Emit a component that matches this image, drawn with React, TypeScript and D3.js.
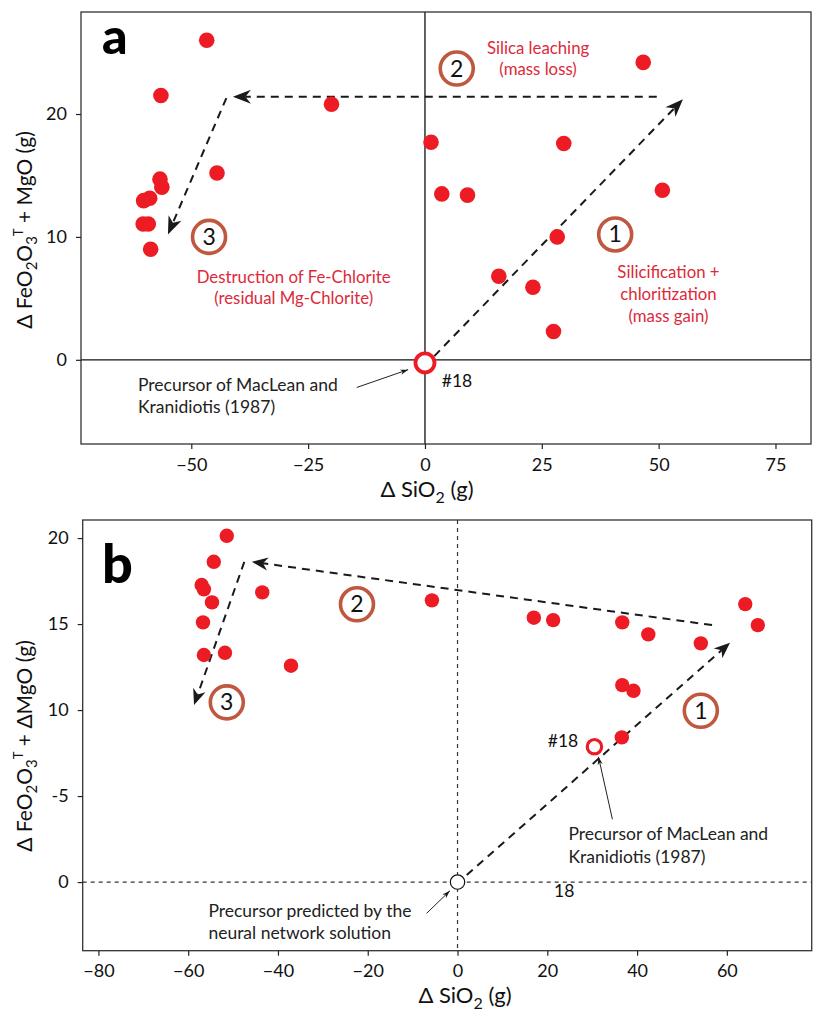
import React, { useEffect, useRef } from 'react';
import * as d3 from 'd3';

// panel a: mass change of SiO2 vs FeO2O3T + MgO
const aSiO2 = [-46.7, -56.5, -20.0, -44.5, -56.7, -56.3, -60.2, -58.9, -60.3, -59.2, -58.7,
  1.3, 3.6, 9.1, 29.7, 46.7, 50.8, 28.3, 15.8, 23.1, 27.5];
const aFeMgO = [26.0, 21.5, 20.8, 15.2, 14.7, 14.05, 12.95, 13.15, 11.05, 11.05, 9.0,
  17.7, 13.5, 13.4, 17.6, 24.2, 13.8, 10.0, 6.8, 5.9, 2.3];
const aPrecursor = [0, -0.25];
const aXTicks = [-50, -25, 0, 25, 50, 75];
const aYTicks = [0, 10, 20];
// arrows: [x1, y1, x2, y2]
const aArrows = [
  [2.0, 0.3, 55.2, 21.2],
  [49.6, 21.4, -41.1, 21.4],
  [-42.5, 21.3, -55.0, 10.2],
];
const aSteps = [
  { n: '1', x: 40.7, y: 10.2 },
  { n: '2', x: 6.8, y: 23.7 },
  { n: '3', x: -46.2, y: 10.0 },
];

// panel b: same with neural network precursor
const bSiO2 = [-51.4, -54.3, -57.0, -56.5, -54.7, -43.5, -56.7, -56.5, -51.8, -37.1,
  -5.7, 17.0, 21.3, 36.7, 42.5, 54.2, 64.1, 66.9, 36.7, 39.2, 36.6];
const bFeMgO = [20.13, 18.62, 17.27, 17.02, 16.26, 16.84, 15.1, 13.2, 13.33, 12.58,
  16.38, 15.37, 15.23, 15.1, 14.4, 13.88, 16.16, 14.94, 11.45, 11.12, 8.41];
const bSample18 = [30.5, 7.87];
const bPrecursor = [0, 0];
const bXTicks = [-80, -60, -40, -20, 0, 20, 40, 60];
const bYTicks = [0, 5, 10, 15, 20];
const bYTickLabels = ['0', '-5', '10', '15', '20'];
const bArrows = [
  [2.05, 0.41, 60.7, 13.91],
  [56.7, 14.94, -45.8, 18.62],
  [-47.5, 18.62, -58.7, 10.29],
];
const bSteps = [
  { n: '1', x: 54.2, y: 9.96 },
  { n: '2', x: -22.4, y: 16.15 },
  { n: '3', x: -51.4, y: 10.45 },
];

const FONT = 'Lato, "Open Sans", sans-serif';
const RED = '#ed1c24';
const TEXT_RED = '#dc2a3a';
const RING = '#c0583f';

const arrowHead = (g, x1, y1, x2, y2, len, w) => {
  const ang = Math.atan2(y2 - y1, x2 - x1) * 180 / Math.PI;
  g.append('path')
    .attr('d', `M0,0 L${-len},${-w} L${-len * 0.7},0 L${-len},${w} Z`)
    .attr('transform', `translate(${x2},${y2}) rotate(${ang})`)
    .attr('fill', '#1a1a1a');
};

const dashedArrow = (g, x, y, a, len, w) => {
  const [x1, y1, x2, y2] = [x(a[0]), y(a[1]), x(a[2]), y(a[3])];
  const d = Math.hypot(x2 - x1, y2 - y1);
  const ex = x2 - (x2 - x1) / d * len * 0.7;
  const ey = y2 - (y2 - y1) / d * len * 0.7;
  g.append('line')
    .attr('x1', x1).attr('y1', y1).attr('x2', ex).attr('y2', ey)
    .attr('stroke', '#1a1a1a').attr('stroke-width', 2).attr('stroke-dasharray', '8,6');
  arrowHead(g, x1, y1, x2, y2, len, w);
};

const thinArrow = (g, x, y, a) => {
  const [x1, y1, x2, y2] = [x(a[0]), y(a[1]), x(a[2]), y(a[3])];
  g.append('line')
    .attr('x1', x1).attr('y1', y1).attr('x2', x2).attr('y2', y2)
    .attr('stroke', '#222').attr('stroke-width', 1);
  arrowHead(g, x1, y1, x2, y2, 8, 2.6);
};

const step = (g, x, y, s) => {
  g.append('circle')
    .attr('cx', x(s.x)).attr('cy', y(s.y)).attr('r', 16.5)
    .attr('fill', 'white').attr('stroke', RING).attr('stroke-width', 3.6);
  g.append('text')
    .attr('x', x(s.x)).attr('y', y(s.y) + 8)
    .attr('text-anchor', 'middle')
    .attr('font-size', 23).attr('fill', '#111')
    .text(s.n);
};

const textLines = (g, x, y, px, lines, opts) => {
  lines.forEach(l => {
    g.append('text')
      .attr('x', x(px)).attr('y', y(l[1]))
      .attr('text-anchor', opts.anchor)
      .attr('font-size', opts.size)
      .attr('fill', opts.color)
      .text(l[0]);
  });
};

const yLabel = (g, cx, cy, withDelta) => {
  const t = g.append('text')
    .attr('transform', `translate(${cx},${cy}) rotate(-90)`)
    .attr('text-anchor', 'middle')
    .attr('font-size', 21).attr('fill', '#111');
  t.append('tspan').text('Δ FeO');
  t.append('tspan').attr('font-size', 15).attr('dy', 5).text('2');
  t.append('tspan').attr('dy', -5).text('O');
  t.append('tspan').attr('font-size', 15).attr('dy', 5).text('3');
  t.append('tspan').attr('font-size', 13).attr('dy', -14).text('T');
  t.append('tspan').attr('dy', 9).text(withDelta ? ' + ΔMgO (g)' : ' + MgO (g)');
};

const xLabel = (g, cx, cy) => {
  const t = g.append('text')
    .attr('x', cx).attr('y', cy)
    .attr('text-anchor', 'middle')
    .attr('font-size', 22).attr('fill', '#111');
  t.append('tspan').text('Δ SiO');
  t.append('tspan').attr('font-size', 16).attr('dy', 6).text('2');
  t.append('tspan').attr('dy', -6).text(' (g)');
};

const styleAxis = (ax) => {
  ax.select('.domain').remove();
  ax.selectAll('line').attr('stroke', '#222').attr('stroke-width', 1.2);
  ax.selectAll('text').attr('font-size', 18).attr('font-family', FONT).attr('fill', '#111');
};

const App = () => {
  const svgRef = useRef();

  useEffect(() => {
    const svg = d3.select(svgRef.current);
    svg.selectAll('*').remove();
    const root = svg.append('g').attr('font-family', FONT);

    // ---------- panel a ----------
    const xa = d3.scaleLinear().domain([-73.6, 82.6]).range([81, 811]);
    const ya = d3.scaleLinear().domain([-6.85, 28.3]).range([444, 12]);
    const ga = root.append('g');

    ga.append('line').attr('x1', xa(0)).attr('x2', xa(0)).attr('y1', ya.range()[1]).attr('y2', ya.range()[0])
      .attr('stroke', '#111').attr('stroke-width', 1.3);
    ga.append('line').attr('x1', xa.range()[0]).attr('x2', xa.range()[1]).attr('y1', ya(0)).attr('y2', ya(0))
      .attr('stroke', '#111').attr('stroke-width', 1.3);

    aArrows.forEach(a => dashedArrow(ga, xa, ya, a, 18, 7));

    ga.selectAll('circle.pt').data(aSiO2).join('circle')
      .attr('class', 'pt')
      .attr('cx', d => xa(d)).attr('cy', (d, i) => ya(aFeMgO[i])).attr('r', 7.8)
      .attr('fill', RED);

    ga.append('circle').attr('cx', xa(aPrecursor[0])).attr('cy', ya(aPrecursor[1])).attr('r', 9.5)
      .attr('fill', 'white').attr('stroke', RED).attr('stroke-width', 3.8);

    aSteps.forEach(s => step(ga, xa, ya, s));

    textLines(ga, xa, ya, 24.2, [['Silica leaching', 24.87], ['(mass loss)', 23.2]], { anchor: 'middle', size: 16.8, color: TEXT_RED });
    textLines(ga, xa, ya, -28.1, [['Destruction of Fe-Chlorite', 6.27], ['(residual Mg-Chlorite)', 4.55]], { anchor: 'middle', size: 16.8, color: TEXT_RED });
    textLines(ga, xa, ya, 52.1, [['Silicification +', 6.65], ['chloritization', 4.83], ['(mass gain)', 3.04]], { anchor: 'middle', size: 16.8, color: TEXT_RED });
    textLines(ga, xa, ya, -61.4, [['Precursor of MacLean and', -2.5], ['Kranidiotis (1987)', -4.35]], { anchor: 'start', size: 17.5, color: '#222' });
    textLines(ga, xa, ya, 3.6, [['#18', -2.2]], { anchor: 'start', size: 17.5, color: '#111' });
    thinArrow(ga, xa, ya, [-14.6, -2.25, -3.6, -0.8]);

    ga.append('text').attr('x', 102).attr('y', 54)
      .attr('font-size', 50).attr('font-weight', 900).attr('fill', '#000').text('a');

    ga.append('rect').attr('x', 81).attr('y', 12).attr('width', 730).attr('height', 432)
      .attr('fill', 'none').attr('stroke', '#333').attr('stroke-width', 1.3);

    styleAxis(ga.append('g').attr('transform', 'translate(0,444)')
      .call(d3.axisBottom(xa).tickValues(aXTicks).tickSize(5).tickPadding(9)));
    styleAxis(ga.append('g').attr('transform', 'translate(81,0)')
      .call(d3.axisLeft(ya).tickValues(aYTicks).tickSize(5).tickPadding(9)));

    xLabel(ga, 427, 497);
    yLabel(ga, 32, 230, false);

    // ---------- panel b ----------
    const xb = d3.scaleLinear().domain([-83.5, 78.9]).range([82.7, 811.7]);
    const yb = d3.scaleLinear().domain([-3.99, 21.05]).range([950.7, 520]);
    const gb = root.append('g');

    gb.append('line').attr('x1', xb(0)).attr('x2', xb(0)).attr('y1', yb.range()[1]).attr('y2', yb.range()[0])
      .attr('stroke', '#333').attr('stroke-width', 1.2).attr('stroke-dasharray', '4,4');
    gb.append('line').attr('x1', xb.range()[0]).attr('x2', xb.range()[1]).attr('y1', yb(0)).attr('y2', yb(0))
      .attr('stroke', '#333').attr('stroke-width', 1.2).attr('stroke-dasharray', '4,4');

    bArrows.forEach(a => dashedArrow(gb, xb, yb, a, 16, 6.5));

    gb.selectAll('circle.pt').data(bSiO2).join('circle')
      .attr('class', 'pt')
      .attr('cx', d => xb(d)).attr('cy', (d, i) => yb(bFeMgO[i])).attr('r', 7.2)
      .attr('fill', RED);

    gb.append('circle').attr('cx', xb(bSample18[0])).attr('cy', yb(bSample18[1])).attr('r', 7.2)
      .attr('fill', 'white').attr('stroke', RED).attr('stroke-width', 3.2);
    gb.append('circle').attr('cx', xb(bPrecursor[0])).attr('cy', yb(bPrecursor[1])).attr('r', 7.2)
      .attr('fill', 'white').attr('stroke', '#111').attr('stroke-width', 1.2);

    bSteps.forEach(s => step(gb, xb, yb, s));

    textLines(gb, xb, yb, 26.9, [['#18', 7.87]], { anchor: 'end', size: 17.5, color: '#111' });
    textLines(gb, xb, yb, 24.7, [['Precursor of MacLean and', 2.44], ['Kranidiotis (1987)', 1.12]], { anchor: 'start', size: 17.5, color: '#222' });
    textLines(gb, xb, yb, 21.5, [['18', -0.89]], { anchor: 'start', size: 17.5, color: '#111' });
    textLines(gb, xb, yb, -55.5, [['Precursor predicted by the', -2.02], ['neural network solution', -3.33]], { anchor: 'start', size: 17.5, color: '#222' });
    thinArrow(gb, xb, yb, [34.5, 3.65, 31.4, 7.28]);
    thinArrow(gb, xb, yb, [-6.9, -1.82, -1.7, -0.51]);

    gb.append('text').attr('x', 102).attr('y', 583)
      .attr('font-size', 54).attr('font-weight', 900).attr('fill', '#000').text('b');

    gb.append('rect').attr('x', 82.7).attr('y', 520).attr('width', 729).attr('height', 430.7)
      .attr('fill', 'none').attr('stroke', '#333').attr('stroke-width', 1.3);

    styleAxis(gb.append('g').attr('transform', 'translate(0,950.7)')
      .call(d3.axisBottom(xb).tickValues(bXTicks).tickSize(5).tickPadding(9)));
    styleAxis(gb.append('g').attr('transform', 'translate(82.7,0)')
      .call(d3.axisLeft(yb).tickValues(bYTicks).tickFormat((d, i) => bYTickLabels[i]).tickSize(5).tickPadding(9)));

    xLabel(gb, 465, 1003);
    yLabel(gb, 32, 746, true);
  }, []);

  return (
    <svg ref={svgRef} width={813} height={1013}
      style={{ position: 'absolute', left: 0, top: 0, background: 'white' }} />
  );
};

export default App;
